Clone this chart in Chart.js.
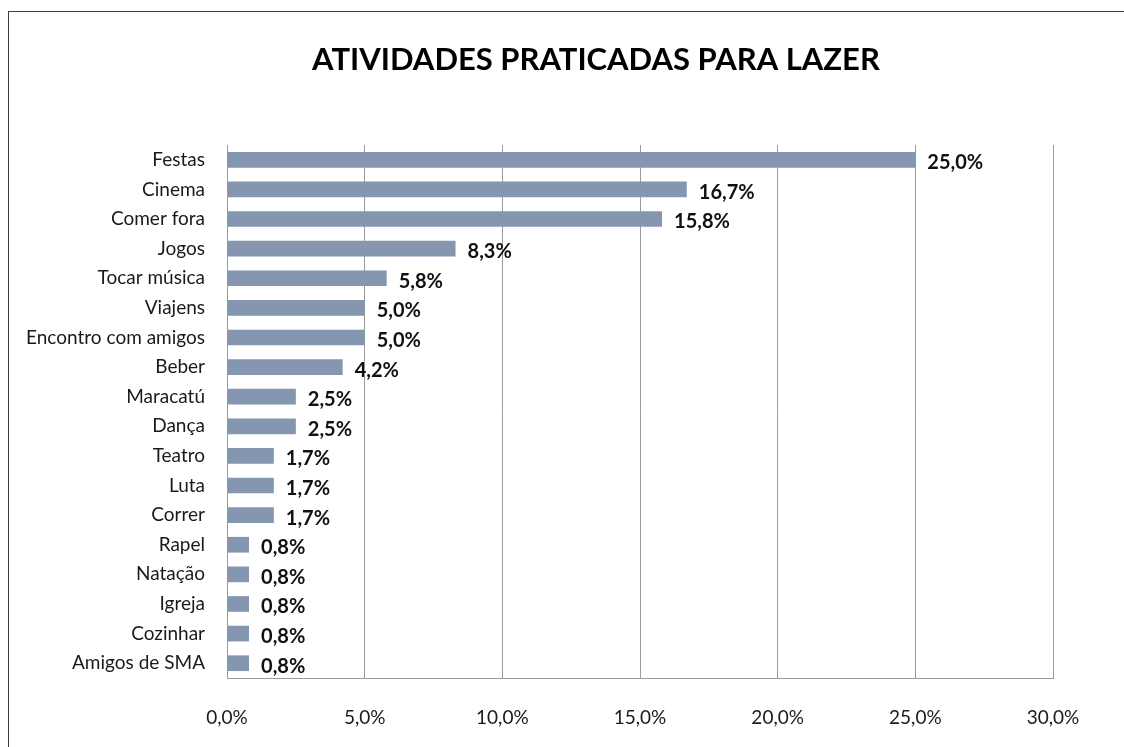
<!DOCTYPE html>
<html>
<head>
<meta charset="utf-8">
<title>Atividades praticadas para lazer</title>
<script src="https://cdn.jsdelivr.net/npm/chart.js@4/dist/chart.umd.min.js"></script>
<style>
    html, body { margin: 0; padding: 0; background: #fff; overflow: hidden; }
    #lazerChart { display: block; }
</style>
</head>
<body>
<canvas id="lazerChart" width="1124" height="747"></canvas>
<script>
// Chart data
const categories = ['Festas', 'Cinema', 'Comer fora', 'Jogos', 'Tocar música', 'Viajens',
    'Encontro com amigos', 'Beber', 'Maracatú', 'Dança', 'Teatro', 'Luta', 'Correr',
    'Rapel', 'Natação', 'Igreja', 'Cozinhar', 'Amigos de SMA'];
const percentages = [25.0, 16.7, 15.8, 8.3, 5.8, 5.0, 5.0, 4.2, 2.5, 2.5, 1.7, 1.7, 1.7,
    0.8, 0.8, 0.8, 0.8, 0.8];
const xTicks = [0, 5, 10, 15, 20, 25, 30];
const chartTitle = 'ATIVIDADES PRATICADAS PARA LAZER';

const FONT = 'Lato, "Open Sans", sans-serif';

function fmtPct(v) {
    return v.toFixed(1).replace('.', ',') + '%';
}

// Outer frame and title (title is off-centre in the original, so drawn by hand)
const framePlugin = {
    id: 'frame',
    beforeDraw(chart) {
        const ctx = chart.ctx;
        ctx.save();
        ctx.fillStyle = '#fff';
        ctx.fillRect(0, 0, chart.width, chart.height);
        ctx.strokeStyle = '#3c3c3c';
        ctx.lineWidth = 1;
        ctx.strokeRect(8.5, 11.5, chart.width + 20, chart.height + 20);
        ctx.font = 'bold 31px ' + FONT;
        ctx.fillStyle = '#000';
        ctx.textAlign = 'center';
        ctx.textBaseline = 'middle';
        ctx.fillText(chartTitle, 596, 60);
        ctx.restore();
    }
};

// Value labels to the right of each bar
const valueLabels = {
    id: 'valueLabels',
    afterDatasetsDraw(chart) {
        const ctx = chart.ctx;
        const meta = chart.getDatasetMeta(0);
        ctx.save();
        ctx.font = 'bold 20px ' + FONT;
        ctx.fillStyle = '#111';
        ctx.textAlign = 'left';
        ctx.textBaseline = 'middle';
        meta.data.forEach((bar, i) => {
            ctx.fillText(fmtPct(percentages[i]), bar.x + 12, bar.y + 3);
        });
        ctx.restore();
    }
};

const ctx = document.getElementById('lazerChart').getContext('2d');
new Chart(ctx, {
    type: 'bar',
    data: {
        labels: categories,
        datasets: [{
            data: percentages,
            backgroundColor: '#8496b0',
            borderWidth: 0,
            categoryPercentage: 1,
            barPercentage: 0.53
        }]
    },
    options: {
        indexAxis: 'y',
        responsive: false,
        animation: false,
        devicePixelRatio: 1,
        layout: { padding: { left: 0, right: 71, top: 145, bottom: 0 } },
        plugins: {
            legend: { display: false },
            tooltip: { enabled: false },
            title: { display: false }
        },
        scales: {
            x: {
                min: 0,
                max: 30,
                z: 1,
                afterBuildTicks(scale) {
                    scale.ticks = xTicks.map(v => ({ value: v }));
                },
                afterFit(scale) { scale.height = 69; },
                ticks: {
                    padding: 28,
                    color: '#1a1a1a',
                    font: { family: FONT, size: 19 },
                    callback: v => fmtPct(v)
                },
                grid: { color: '#9a9a9a', lineWidth: 1, drawTicks: false },
                border: { display: true, color: '#9a9a9a', width: 1 }
            },
            y: {
                afterFit(scale) { scale.width = 227; },
                ticks: {
                    padding: 22,
                    color: '#1a1a1a',
                    font: { family: FONT, size: 19 }
                },
                grid: { display: false, drawTicks: false },
                border: { display: true, color: '#9a9a9a', width: 1 }
            }
        }
    },
    plugins: [framePlugin, valueLabels]
});
</script>
</body>
</html>
